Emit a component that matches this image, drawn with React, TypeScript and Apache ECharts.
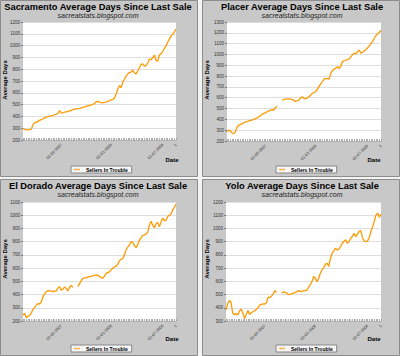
import React, { useEffect, useRef } from "react";
import * as echarts from "echarts";

const sacramento = [295,290,287,286,288,292,330,345,352,358,366,373,380,388,394,399,402,405,409,414,418,425,450,428,430,436,439,442,446,450,457,461,464,466,468,472,476,480,485,490,494,498,503,508,525,528,520,517,515,518,522,527,535,540,543,555,590,630,660,645,690,715,742,760,772,775,792,768,760,785,812,840,845,825,832,852,885,880,898,920,875,868,920,930,950,975,995,1030,1055,1080,1095,1115,1140];
const placer = [284,300,293,274,268,284,330,345,352,361,368,376,380,386,390,392,400,407,415,423,435,448,455,460,470,479,485,491,485,510,522,null,null,575,584,587,590,589,587,583,578,565,572,580,600,609,593,590,600,610,625,640,648,657,680,705,728,750,773,776,779,772,828,850,865,874,887,870,893,934,942,949,952,958,980,998,1011,1005,1027,1040,1011,1020,1032,1045,1062,1080,1100,1120,1150,1175,1192,1205,1222];
const elDorado = [245,258,225,235,243,262,288,303,320,332,328,345,385,405,422,429,428,426,423,425,427,450,458,432,440,458,445,428,455,468,455,null,null,460,483,503,522,526,528,532,535,538,542,545,548,545,538,528,525,540,560,568,572,588,600,608,615,630,655,668,672,700,740,758,775,800,795,770,755,778,810,830,848,850,858,872,925,955,925,905,935,945,912,948,978,960,962,990,1000,1010,1040,1060,1084];
const yolo = [383,430,455,440,358,348,358,345,376,390,360,318,350,380,350,362,370,378,388,400,420,426,430,428,438,480,476,488,505,530,515,null,null,510,520,518,512,500,502,506,510,515,520,530,524,524,527,530,534,555,575,598,636,623,598,623,661,686,704,729,737,712,775,813,830,851,838,843,863,888,901,914,888,901,926,939,964,939,957,977,985,930,905,901,906,930,977,1010,1053,1100,1116,1085,1108];

const categories = sacramento.map((_, i) => String(i));
const tickIndices = [23, 53, 84, 92];
const tickLabels = ["01-06-2007", "01-01-2008", "01-07-2008", "1"];

const titles = [
  "Sacramento Average Days Since Last Sale",
  "Placer Average Days Since Last Sale",
  "El Dorado Average Days Since Last Sale",
  "Yolo Average Days Since Last Sale",
];
const seriesData = [sacramento, placer, elDorado, yolo];
const yMins = [200, 200, 200, 300];
const yMaxs = [1200, 1300, 1100, 1200];
const legendName = "Sellers In Trouble";
const subtitle = "sacrealstats.blogspot.com";

const FONT = "'Liberation Sans', Arial, sans-serif";

const panels = [
  { x: 0, y: 0, left: 23, right: 176, top: 22, bottom: 140, lx: 71, tx: 98 },
  { x: 202, y: 0, left: 25, right: 179, top: 22, bottom: 141, lx: 74, tx: 100 },
  { x: 0, y: 179, left: 23, right: 176, top: 23, bottom: 142, lx: 71, tx: 98 },
  { x: 202, y: 179, left: 24, right: 179, top: 23, bottom: 142, lx: 74, tx: 100 },
];
const PW = 198;
const PH = 177;

export default function App() {
  const ref = useRef<HTMLDivElement>(null);
  useEffect(() => {
    document.body.style.margin = "0";
    const chart = echarts.init(ref.current!, null, { renderer: "svg" });
    const grid: any[] = [];
    const xAxis: any[] = [];
    const yAxis: any[] = [];
    const series: any[] = [];
    const legend: any[] = [];
    const graphic: any[] = [];
    panels.forEach((p, k) => {
      graphic.push({
        type: "rect",
        z: -100,
        shape: { x: p.x + 0.5, y: p.y + 0.5, width: PW - 1, height: PH - 1 },
        style: { fill: "#c8c8c8", stroke: "#8c8c8c", lineWidth: 1 },
      });
      graphic.push({
        type: "text",
        x: p.x + p.tx,
        y: p.y + 6.5,
        style: {
          text: titles[k],
          fill: "#000",
          font: `bold 9.3px ${FONT}`,
          textAlign: "center",
          textVerticalAlign: "middle",
        },
      });
      graphic.push({
        type: "text",
        x: p.x + p.tx,
        y: p.y + 15.5,
        style: {
          text: subtitle,
          fill: "#222",
          font: `italic 7px ${FONT}`,
          textAlign: "center",
          textVerticalAlign: "middle",
        },
      });
      graphic.push({
        type: "text",
        x: p.x + 4.5,
        y: p.y + 80,
        rotation: Math.PI / 2,
        style: {
          text: "Average Days",
          fill: "#000",
          font: `bold 6px ${FONT}`,
          textAlign: "center",
          textVerticalAlign: "middle",
        },
      });
      graphic.push({
        type: "text",
        x: p.x + 172,
        y: p.y + 160,
        style: {
          text: "Date",
          fill: "#000",
          font: `bold 6px ${FONT}`,
          textAlign: "center",
          textVerticalAlign: "middle",
        },
      });
      grid.push({
        left: p.x + p.left,
        top: p.y + p.top,
        width: p.right - p.left,
        height: p.bottom - p.top,
        show: true,
        backgroundColor: "#ffffff",
        borderWidth: 0,
      });
      xAxis.push({
        type: "category",
        gridIndex: k,
        data: categories,
        boundaryGap: false,
        axisLine: { show: true, lineStyle: { color: "#b0b0b0", width: 1 } },
        axisTick: {
          show: true,
          interval: 0,
          length: 2,
          inside: true,
          lineStyle: { color: "#9a9a9a", width: 0.8 },
        },
        axisLabel: {
          interval: (i: number) => tickIndices.includes(i),
          formatter: (_v: string, i: number) => {
            const t = tickIndices.indexOf(i);
            return t >= 0 ? tickLabels[t] : "";
          },
          rotate: 45,
          fontSize: 4,
          color: "#333",
          fontFamily: FONT,
          margin: 4,
        },
        splitLine: { show: false },
      });
      yAxis.push({
        type: "value",
        gridIndex: k,
        min: yMins[k],
        max: yMaxs[k],
        interval: 100,
        axisLine: { show: false },
        axisTick: { show: true, length: 2, lineStyle: { color: "#777" } },
        axisLabel: {
          fontSize: 4.5,
          color: "#333",
          fontFamily: FONT,
          margin: 3,
          formatter: (v: number) => String(v),
        },
        splitLine: { show: true, lineStyle: { color: "#dedede", width: 1 } },
      });
      series.push({
        type: "line",
        name: legendName,
        xAxisIndex: k,
        yAxisIndex: k,
        data: seriesData[k],
        showSymbol: false,
        symbol: "none",
        connectNulls: false,
        lineStyle: { color: "#ff9900", width: 1.3 },
        itemStyle: { color: "#ff9900" },
      });
      legend.push({
        left: p.x + p.lx,
        top: p.y + 166,
        data: [legendName],
        icon: "rect",
        itemWidth: 6,
        itemHeight: 1.5,
        itemGap: 3,
        itemStyle: { color: "#ffb04a" },
        padding: [1, 4, 1, 3],
        backgroundColor: "#f6f6f6",
        borderColor: "#888",
        borderWidth: 1,
        selectedMode: false,
        textStyle: { fontSize: 5, fontWeight: "bold", color: "#000", fontFamily: FONT, padding: [0, 0, 0, 1] },
      });
    });
    chart.setOption({
      animation: false,
      backgroundColor: "#f4f4f4",
      textStyle: { fontFamily: FONT },
      grid,
      xAxis,
      yAxis,
      series,
      legend,
      graphic,
    });
    return () => chart.dispose();
  }, []);
  return <div ref={ref} style={{ width: 400, height: 356 }} />;
}
